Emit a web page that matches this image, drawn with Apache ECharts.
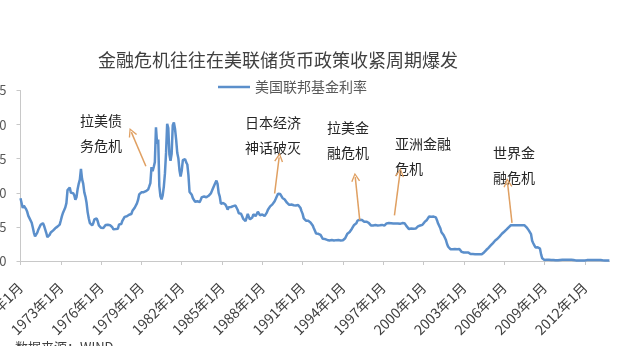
<!DOCTYPE html>
<html>
<head>
<meta charset="utf-8">
<script src="https://cdn.jsdelivr.net/npm/echarts@6/dist/echarts.min.js"></script>
<style>
html,body{margin:0;padding:0;background:#fff;}
#chart{width:623px;height:346px;}
</style>
</head>
<body>
<div id="chart"></div>
<script>
// Monthly effective federal funds rate (%)
const startYear = 1970;
const rates1970s = [
  9.2, 8.98, 7.76, 8.10, 7.95, 7.61, 7.21, 6.61, 6.29, 6.20, 5.60, 4.90,
  4.14, 3.60, 3.50, 4.16, 4.63, 4.91, 5.31, 5.60, 5.55, 5.20, 4.91, 4.14,
  3.50, 3.29, 3.83, 4.17, 4.27, 4.46, 4.55, 4.80, 4.87, 5.04, 5.06, 5.33,
  5.94, 6.58, 7.09, 7.12, 7.84, 8.49, 10.40, 10.50, 10.78, 10.01, 10.03, 9.95,
  9.65, 8.97, 9.35, 10.51, 11.31, 11.93, 13.5, 12.01, 11.34, 10.06, 9.45, 8.53,
  7.13, 6.24, 5.54, 5.49, 5.22, 5.55, 6.10, 6.14, 6.24, 5.82, 5.22, 5.20,
  4.87, 4.77, 4.84, 4.82, 5.29, 5.48, 5.31, 5.29, 5.25, 5.02, 4.95, 4.65,
  4.61, 4.68, 4.69, 4.73, 5.35, 5.39, 5.42, 5.90, 6.14, 6.47, 6.51, 6.56,
  6.70, 6.78, 6.79, 6.89, 7.36, 7.60, 7.81, 8.04, 8.45, 8.96, 9.76, 10.03,
  10.07, 10.06, 10.09, 10.01, 10.24, 10.29, 10.47, 10.94, 11.43, 13.77, 13.18, 13.78
];
const rates1980s = [
  14.5, 19.6, 17.19, 17.8, 10.98, 9.47, 9.03, 9.61, 10.87, 12.81, 15.85, 20.1,
  19.5, 15.6, 14.70, 15.72, 19.9, 20.3, 19.4, 17.82, 15.87, 15.08, 13.31, 12.37,
  13.22, 14.78, 14.68, 14.94, 14.45, 14.15, 12.59, 10.12, 10.31, 9.71, 9.20, 8.95,
  8.68, 8.51, 8.77, 8.80, 8.63, 8.98, 9.37, 9.56, 9.45, 9.48, 9.34, 9.47,
  9.56, 9.59, 9.91, 10.29, 10.32, 11.06, 11.23, 11.8, 11.30, 9.99, 9.43, 8.38,
  8.35, 8.50, 8.58, 8.27, 7.97, 7.53, 7.88, 7.90, 7.92, 7.99, 8.05, 8.27,
  8.14, 7.86, 7.48, 6.99, 6.85, 6.92, 6.56, 6.17, 5.89, 5.85, 6.04, 6.91,
  6.43, 6.10, 6.13, 6.37, 6.85, 6.73, 6.58, 6.73, 7.22, 7.29, 6.69, 6.77,
  6.83, 6.58, 6.58, 6.87, 7.09, 7.51, 7.75, 8.01, 8.19, 8.30, 8.35, 8.76,
  9.12, 9.36, 9.85, 9.84, 9.81, 9.53, 9.24, 8.99, 9.02, 8.84, 8.55, 8.45
];
const rates1990s = [
  8.23, 8.24, 8.28, 8.26, 8.18, 8.29, 8.15, 8.13, 8.20, 8.11, 7.81, 7.31,
  6.91, 6.25, 6.12, 5.91, 5.78, 5.90, 5.82, 5.66, 5.45, 5.21, 4.81, 4.43,
  4.03, 4.06, 3.98, 3.73, 3.82, 3.76, 3.25, 3.30, 3.22, 3.10, 3.09, 2.92,
  3.02, 3.03, 3.07, 2.96, 3.00, 3.04, 3.06, 3.03, 3.09, 2.99, 3.02, 2.96,
  3.05, 3.25, 3.34, 3.56, 4.01, 4.25, 4.26, 4.47, 4.73, 4.76, 5.29, 5.45,
  5.53, 5.92, 5.98, 6.05, 6.01, 6.00, 5.85, 5.74, 5.80, 5.76, 5.80, 5.60,
  5.56, 5.22, 5.31, 5.22, 5.24, 5.27, 5.40, 5.22, 5.30, 5.24, 5.31, 5.29,
  5.25, 5.19, 5.39, 5.51, 5.50, 5.56, 5.52, 5.54, 5.54, 5.50, 5.52, 5.50,
  5.56, 5.51, 5.49, 5.45, 5.49, 5.56, 5.54, 5.55, 5.51, 5.07, 4.83, 4.68,
  4.63, 4.76, 4.81, 4.74, 4.74, 4.76, 4.99, 5.07, 5.22, 5.20, 5.42, 5.30
];
const rates2000s = [
  5.45, 5.73, 5.85, 6.02, 6.27, 6.53, 6.54, 6.50, 6.52, 6.51, 6.51, 6.40,
  5.98, 5.49, 5.31, 4.80, 4.21, 3.97, 3.77, 3.65, 3.07, 2.49, 2.09, 1.82,
  1.73, 1.74, 1.73, 1.75, 1.75, 1.75, 1.73, 1.74, 1.75, 1.75, 1.34, 1.24,
  1.24, 1.26, 1.25, 1.26, 1.26, 1.22, 1.01, 1.03, 1.01, 1.01, 1.00, 0.98,
  1.00, 1.01, 1.00, 1.00, 1.00, 1.03, 1.26, 1.43, 1.61, 1.76, 1.93, 2.16,
  2.28, 2.50, 2.63, 2.79, 3.00, 3.04, 3.26, 3.50, 3.62, 3.78, 4.00, 4.16,
  4.29, 4.49, 4.59, 4.79, 4.94, 4.99, 5.24, 5.25, 5.25, 5.25, 5.25, 5.24,
  5.25, 5.26, 5.26, 5.25, 5.25, 5.25, 5.26, 5.02, 4.94, 4.76, 4.49, 4.24,
  3.94, 2.98, 2.61, 2.28, 1.98, 2.00, 2.01, 2.00, 1.81, 0.97, 0.39, 0.16,
  0.15, 0.22, 0.18, 0.15, 0.18, 0.21, 0.16, 0.16, 0.15, 0.12, 0.12, 0.12
];
const rates2010s = [
  0.11, 0.13, 0.16, 0.20, 0.20, 0.18, 0.18, 0.19, 0.19, 0.19, 0.19, 0.18,
  0.17, 0.16, 0.14, 0.10, 0.09, 0.09, 0.07, 0.10, 0.08, 0.07, 0.08, 0.07,
  0.08, 0.10, 0.13, 0.14, 0.16, 0.16, 0.16, 0.13, 0.14, 0.16, 0.16, 0.16,
  0.14, 0.15, 0.14, 0.15, 0.11, 0.09, 0.09, 0.08, 0.08, 0.09, 0.08
];
const seriesName = '美国联邦基金利率';
const titleText = '金融危机往往在美联储货币政策收紧周期爆发';
const yTicks = [0, 5, 10, 15, 20, 25];
// Annotations: [label lines, arrow start [monthIndex, value], arrow end [monthIndex, value]]
const annotations = [
  { text: '拉美债\n务危机', from: [112, 13.9], to: [99, 18.9], left: 80, top: 108.5 },
  { text: '日本经济\n神话破灭', from: [227, 9.9], to: [231, 15.2], left: 245, top: 110 },
  { text: '拉美金\n融危机', from: [303, 6.0], to: [299, 12.3], left: 327, top: 115 },
  { text: '亚洲金融\n危机', from: [334, 6.7], to: [339, 13.0], left: 395, top: 131.5 },
  { text: '世界金\n融危机', from: [439, 5.6], to: [435, 11.5], left: 493, top: 140 }
];
const sourceText = '数据来源：WIND';

const values = [].concat(rates1970s, rates1980s, rates1990s, rates2000s, rates2010s);
const categories = values.map((v, i) => {
  const y = startYear + Math.floor(i / 12);
  const m = (i % 12) + 1;
  return y + '年' + m + '月';
});

const FONT = '"Noto Sans CJK SC", "Noto Sans", sans-serif';
const OPEN_ARROW = 'path://M0,10 L5,0 L10,10 L8.6,10.6 L5,3 L1.4,10.6 Z';
const chart = echarts.init(document.getElementById('chart'), null, { renderer: 'canvas' });
chart.setOption({
  animation: false,
  backgroundColor: '#ffffff',
  textStyle: { fontFamily: FONT },
  title: {
    text: titleText,
    left: 98,
    top: 51,
    padding: 0,
    textStyle: { fontSize: 18, fontWeight: 'normal', color: '#404040', fontFamily: FONT }
  },
  legend: {
    data: [{ name: seriesName, icon: 'rect' }],
    left: 218,
    top: 80,
    padding: 0,
    itemWidth: 32,
    itemHeight: 2.5,
    itemGap: 5,
    textStyle: { fontSize: 14, color: '#595959', fontFamily: FONT }
  },
  grid: { left: 20.5, right: 13.6, top: 90.5, bottom: 85, containLabel: false, outerBoundsMode: 'none' },
  xAxis: {
    type: 'category',
    data: categories,
    boundaryGap: false,
    axisLine: { lineStyle: { color: '#c8c8c8', width: 1 } },
    axisTick: { show: true, interval: 35, length: 4, lineStyle: { color: '#c8c8c8' } },
    axisLabel: { interval: 35, rotate: 45, fontSize: 14, color: '#404040', margin: 24, fontFamily: FONT, hideOverlap: false },
    splitLine: { show: false }
  },
  yAxis: {
    type: 'value',
    min: yTicks[0],
    max: yTicks[yTicks.length - 1],
    interval: 5,
    axisLine: { show: true, lineStyle: { color: '#c8c8c8', width: 1 } },
    axisTick: { show: true, length: 4, lineStyle: { color: '#c8c8c8' } },
    axisLabel: { fontSize: 13, color: '#595959', margin: 14, fontFamily: FONT },
    splitLine: { show: false }
  },
  series: [{
    name: seriesName,
    type: 'line',
    data: values,
    showSymbol: false,
    symbol: 'none',
    lineStyle: { color: '#5B8FCB', width: 2.5 },
    itemStyle: { color: '#5B8FCB' },
    markLine: {
      silent: true,
      symbol: ['none', OPEN_ARROW],
      symbolSize: [9, 9],
      label: { show: false },
      lineStyle: { color: '#E0A062', width: 1.5, type: 'solid' },
      data: annotations.map(a => [
        { coord: a.from },
        { coord: a.to }
      ])
    }
  }],
  graphic: annotations.map(a => ({
    type: 'text',
    left: a.left,
    top: a.top,
    silent: true,
    style: {
      text: a.text,
      fill: '#262626',
      font: '14px ' + FONT,
      lineHeight: 25
    }
  })).concat([{
    type: 'text',
    left: 15,
    top: 341,
    silent: true,
    style: { text: sourceText, fill: '#404040', font: '13px ' + FONT }
  }])
});
</script>
</body>
</html>
